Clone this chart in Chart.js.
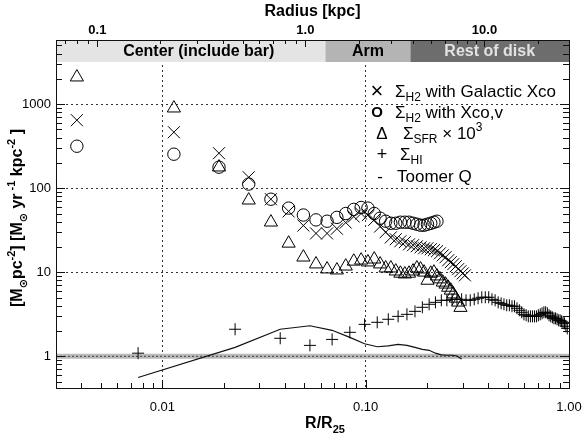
<!DOCTYPE html>
<html>
<head>
<meta charset="utf-8">
<script src="https://cdn.jsdelivr.net/npm/chart.js@4"></script>
<style>
  html, body { margin: 0; padding: 0; background: #fff; }
</style>
</head>
<body>
<canvas id="chart" width="584" height="439"></canvas>
<script>
// axis ranges and tick labels
const xMin = 0.003, xMax = 1.0;
const yMin = 0.42, yMax = 5800;
const xTickValues = [0.01, 0.1, 1.0];
const xTickLabels = ["0.01", "0.10", "1.00"];
const yTickValues = [1, 10, 100, 1000];
const yTickLabels = ["1", "10", "100", "1000"];
// top axis: radius in kpc, placed at R/R25 positions
const kpcTickAt = [0.00479, 0.0505, 0.384];
const kpcTickLabels = ["0.1", "1.0", "10.0"];

// regions along the top
const regionLabels = ["Center (include bar)", "Arm", "Rest of disk"];
const regionEdges = [0.003, 0.0634, 0.166, 1.0];

// H2 / SFR radii (R/R25)
const h2R = [0.0038, 0.0114, 0.0190, 0.0266, 0.0342, 0.0418, 0.0494, 0.0570, 0.0646, 0.0722,
  0.0798, 0.0874, 0.0950, 0.1026, 0.1102, 0.1178, 0.1254, 0.1330, 0.1406, 0.1482,
  0.1558, 0.1634, 0.1710, 0.1786, 0.1862, 0.1938, 0.2014, 0.2090, 0.2166, 0.2242,
  0.2318, 0.2394, 0.2470, 0.2546, 0.2622, 0.2698, 0.2774, 0.2850, 0.2926, 0.3002, 0.3078];

const h2Galactic = [645, 464, 261, 135, 74, 53, 36, 29, 29, 33,
  39, 46, 50, 48, 42, 35, 30, 26, 24.7, 23.4,
  22.8, 21.5, 21.0, 20.4, 19.8, 19.3, 19.3, 18.8, 18.3, 17.8,
  16.8, 15.9, 15.1, 13.9, 13.2, 12.5, 11.8, 10.9, 10.3, 9.7, 9.2];

const h2Xcov = [316, 254, 178, 112, 74, 58, 48, 42, 40.5, 45,
  50, 56, 59, 58, 50, 44, 40.5, 38.3, 38.3, 39.4,
  39.4, 39.4, 38.3, 37.3, 36.3, 36.3, 37.3, 38.3, 39.4, 40.5];

const sfrX1000 = [2096, 896, 178, 72, 39.4, 22.1, 15.1, 12.5, 10.9, 10.6,
  11.8, 13.5, 13.9, 13.2, 14.3, 12.5, 11.2, 11.2, 10.3, 9.7,
  9.5, 9.7, 10.3, 11.2, 10.9, 10.0, 8.0, 9.7, 10.0, 9.0,
  8.3, 7.6, 7.2, 6.6, 6.1, 5.5, 4.9, 4.4, 3.8];

// HI radii (R/R25)
const hiR = [0.0076, 0.0228, 0.0380, 0.0532, 0.0684, 0.0836, 0.0988, 0.1140, 0.1292, 0.1444,
  0.1596, 0.1748, 0.1900, 0.2052, 0.2204, 0.2356, 0.2508, 0.2660, 0.2812, 0.2964,
  0.3116, 0.3268, 0.3420, 0.3572, 0.3724, 0.3876, 0.4028, 0.4180, 0.4332, 0.4484,
  0.4636, 0.4788, 0.4940, 0.5092, 0.5244, 0.5396, 0.5548, 0.5700, 0.5852, 0.6004,
  0.6156, 0.6308, 0.6460, 0.6612, 0.6764, 0.6916, 0.7068, 0.7220, 0.7372, 0.7524,
  0.7676, 0.7828, 0.7980, 0.8132, 0.8284, 0.8436, 0.8588, 0.8740, 0.8892, 0.9044,
  0.9196, 0.9348, 0.9500, 0.9652, 0.9804];

const hiVal = [1.09, 2.10, 1.64, 1.35, 1.59, 1.93, 2.40, 2.54, 2.76, 2.99,
  3.16, 3.43, 3.83, 4.16, 4.39, 4.64, 4.64, 4.77, 4.77, 4.77,
  4.64, 4.64, 4.77, 4.91, 5.04, 5.04, 5.04, 4.77, 4.64, 4.39,
  4.27, 4.16, 4.05, 4.05, 3.94, 3.94, 3.73, 3.53, 3.34, 3.16,
  3.08, 2.99, 2.99, 2.99, 2.99, 2.99, 3.08, 3.16, 3.25, 3.34,
  3.34, 3.25, 3.08, 2.99, 2.91, 2.83, 2.83, 2.76, 2.68, 2.68,
  2.61, 2.54, 2.47, 2.28, 2.15];

// Toomre Q, at the first HI radii
const toomreQ = [0.56, 1.28, 2.10, 2.31, 2.04, 1.68, 1.41, 1.30, 1.33, 1.39,
  1.35, 1.28, 1.21, 1.18, 1.09, 1.04, 1.03, 1.03, 1.01, 0.93];
const qThreshold = 1;

const FONT = '"Liberation Sans", Arial, Helvetica, "DejaVu Sans", sans-serif';
Chart.defaults.font.family = FONT;
Chart.defaults.color = "#000";

const pts = (xs, ys) => ys.map((y, i) => ({ x: xs[i], y: y }));

const drawRich = function (ctx, parts, x, y, size, weight) {
  ctx.textAlign = "left";
  ctx.textBaseline = "middle";
  parts.forEach((p) => {
    const s = p.s ? Math.round(size * 0.68) : size;
    ctx.font = weight + " " + s + "px " + FONT;
    const dy = p.s === -1 ? size * 0.35 : p.s === 1 ? -size * 0.38 : 0;
    ctx.fillText(p.t, x, y + dy);
    x += ctx.measureText(p.t).width;
  });
  return x;
};

const richWidth = function (ctx, parts, size, weight) {
  let w = 0;
  parts.forEach((p) => {
    const s = p.s ? Math.round(size * 0.68) : size;
    ctx.font = weight + " " + s + "px " + FONT;
    w += ctx.measureText(p.t).width;
  });
  return w;
};

const legendRows = [
  { sym: "\u00d7", symFont: "22px", sx: 377, tx: 395, y: 92,
    parts: [{ t: "\u03a3" }, { t: "H2", s: -1 }, { t: " with Galactic Xco" }] },
  { sym: "O", symFont: "bold 15px", sx: 377, tx: 395, y: 113,
    parts: [{ t: "\u03a3" }, { t: "H2", s: -1 }, { t: " with Xco,v" }] },
  { sym: "\u0394", symFont: "17px", sx: 382, tx: 403, y: 134,
    parts: [{ t: "\u03a3" }, { t: "SFR", s: -1 }, { t: " \u00d7 10" }, { t: "3", s: 1 }] },
  { sym: "+", symFont: "18px", sx: 382, tx: 400, y: 155,
    parts: [{ t: "\u03a3" }, { t: "HI", s: -1 }] },
  { sym: "-", symFont: "17px", sx: 380, tx: 397, y: 177,
    parts: [{ t: "Toomer Q" }] },
];

const decorPlugin = {
  id: "decor",
  beforeDatasetsDraw(chart) {
    const { ctx, chartArea: a, scales } = chart;
    const fills = ["#e4e4e4", "#b4b4b4", "#6d6d6d"];
    const inks = ["#000", "#000", "#e2e2e2"];
    const nudge = [8, 0, 0];
    ctx.save();
    for (let i = 0; i < regionLabels.length; i++) {
      const x0 = scales.x.getPixelForValue(regionEdges[i]);
      const x1 = scales.x.getPixelForValue(regionEdges[i + 1]);
      ctx.fillStyle = fills[i];
      ctx.fillRect(x0, a.top, x1 - x0, 22);
      ctx.fillStyle = inks[i];
      ctx.font = "bold 16px " + FONT;
      ctx.textAlign = "center";
      ctx.textBaseline = "middle";
      ctx.fillText(regionLabels[i], (x0 + x1) / 2 + nudge[i], a.top + 12);
    }
    ctx.restore();
  },
  afterDraw(chart) {
    const { ctx, chartArea: a, scales } = chart;
    const xs = scales.x, ys = scales.y;
    ctx.save();
    ctx.strokeStyle = "#111";
    ctx.lineWidth = 1;

    // inward ticks, bottom and left/right
    ctx.beginPath();
    for (let k = -3; k <= 0; k++) {
      for (let m = 1; m <= 9; m++) {
        const v = m * Math.pow(10, k);
        if (v <= xMin || v >= xMax) continue;
        const px = Math.round(xs.getPixelForValue(v)) + 0.5;
        const len = m === 1 ? 8 : 5;
        ctx.moveTo(px, a.bottom);
        ctx.lineTo(px, a.bottom - len);
      }
    }
    for (let k = -1; k <= 3; k++) {
      for (let m = 1; m <= 9; m++) {
        const v = m * Math.pow(10, k);
        if (v <= yMin || v >= yMax) continue;
        const py = Math.round(ys.getPixelForValue(v)) + 0.5;
        const len = m === 1 ? 9 : 6;
        ctx.moveTo(a.left, py);
        ctx.lineTo(a.left + len, py);
        ctx.moveTo(a.right, py);
        ctx.lineTo(a.right - len, py);
      }
    }
    // top (kpc) ticks
    const tops = [];
    kpcTickAt.forEach((v) => tops.push({ v: v, len: 7 }));
    for (let m = 2; m <= 9; m++) {
      const f = Math.log10(m);
      const r0 = kpcTickAt[1] / kpcTickAt[0];
      const r1 = kpcTickAt[2] / kpcTickAt[1];
      tops.push({ v: kpcTickAt[0] * Math.pow(r0, f - 1), len: 4 });
      tops.push({ v: kpcTickAt[0] * Math.pow(r0, f), len: 4 });
      tops.push({ v: kpcTickAt[1] * Math.pow(r1, f), len: 4 });
      tops.push({ v: kpcTickAt[2] * Math.pow(r1, f), len: 4 });
    }
    tops.forEach((t) => {
      if (t.v <= xMin || t.v >= xMax) return;
      const px = Math.round(xs.getPixelForValue(t.v)) + 0.5;
      ctx.moveTo(px, a.top);
      ctx.lineTo(px, a.top + t.len);
    });
    ctx.stroke();

    // frame
    ctx.strokeRect(Math.round(a.left) + 0.5, Math.round(a.top) + 0.5,
      Math.round(a.right - a.left), Math.round(a.bottom - a.top));

    // x title
    ctx.fillStyle = "#000";
    const xt = [{ t: "R/R" }, { t: "25", s: -1 }];
    const xw = richWidth(ctx, xt, 16, "bold");
    drawRich(ctx, xt, 325 - xw / 2, 424, 16, "bold");

    // y title, rotated
    const yt = [{ t: "[M" }, { t: "\u2299", s: -1 }, { t: "pc" }, { t: "-2", s: 1 },
      { t: "] [M" }, { t: "\u2299", s: -1 }, { t: " yr" }, { t: " -1", s: 1 },
      { t: " kpc" }, { t: "-2", s: 1 }, { t: " ]" }];
    ctx.save();
    ctx.translate(18, 218);
    ctx.rotate(-Math.PI / 2);
    const yw = richWidth(ctx, yt, 16, "bold");
    drawRich(ctx, yt, -yw / 2, 0, 16, "bold");
    ctx.restore();

    // legend
    legendRows.forEach((r) => {
      ctx.font = r.symFont + " " + FONT;
      ctx.textAlign = "center";
      ctx.textBaseline = "middle";
      ctx.fillText(r.sym, r.sx, r.y);
      drawRich(ctx, r.parts, r.tx, r.y, 17, "normal");
    });
    ctx.restore();
  },
};

const marker = (style, radius) => ({
  showLine: false,
  pointStyle: style,
  pointRadius: radius,
  pointHoverRadius: radius,
  borderColor: "#000",
  pointBorderColor: "#000",
  backgroundColor: "rgba(0,0,0,0)",
  pointBackgroundColor: "rgba(0,0,0,0)",
  pointBorderWidth: 1,
  borderWidth: 1,
});

new Chart(document.getElementById("chart"), {
  type: "scatter",
  data: {
    datasets: [
      Object.assign({ label: "H2 Galactic Xco", data: pts(h2R, h2Galactic) }, marker("crossRot", 8.5)),
      Object.assign({ label: "H2 Xco,v", data: pts(h2R, h2Xcov) }, marker("circle", 6.2)),
      Object.assign({ label: "SFR x 1e3", data: pts(h2R, sfrX1000) }, marker("triangle", 7.6)),
      Object.assign({ label: "HI", data: pts(hiR, hiVal) }, marker("cross", 6)),
      {
        label: "Toomer Q",
        data: pts(hiR, toomreQ),
        showLine: true,
        pointRadius: 0,
        borderColor: "#111",
        borderWidth: 1.2,
      },
      {
        label: "Q threshold dots",
        data: [{ x: xMin, y: qThreshold }, { x: xMax, y: qThreshold }],
        showLine: true,
        pointRadius: 0,
        borderColor: "#444",
        borderWidth: 1,
        borderDash: [2, 2],
      },
      {
        label: "Q threshold band",
        data: [{ x: xMin, y: qThreshold }, { x: xMax, y: qThreshold }],
        showLine: true,
        pointRadius: 0,
        borderColor: "#b9b9b9",
        borderWidth: 5,
      },
    ],
  },
  options: {
    responsive: false,
    animation: false,
    layout: { padding: { left: 0, right: 15, top: 0, bottom: 0 } },
    plugins: { legend: { display: false }, tooltip: { enabled: false } },
    scales: {
      x: {
        type: "logarithmic",
        position: "bottom",
        min: xMin,
        max: xMax,
        bounds: "data",
        afterBuildTicks: (s) => {
          s.ticks = xTickValues.map((v) => ({ value: v }));
        },
        afterFit: (s) => {
          s.height = 51;
          s.paddingLeft = 0;
          s.paddingRight = 0;
        },
        ticks: {
          autoSkip: false,
          maxRotation: 0,
          padding: 12,
          font: { size: 13 },
          callback: (v, i) => xTickLabels[i],
        },
        grid: {
          drawTicks: false,
          lineWidth: 1,
          color: (c) => (c.tick && c.tick.value < xMax ? "#333" : "rgba(0,0,0,0)"),
        },
        border: { display: false, dash: [2, 3] },
      },
      x2: {
        type: "logarithmic",
        position: "top",
        min: xMin,
        max: xMax,
        bounds: "data",
        afterBuildTicks: (s) => {
          s.ticks = kpcTickAt.map((v) => ({ value: v }));
        },
        afterFit: (s) => {
          s.height = 40;
          s.paddingLeft = 0;
          s.paddingRight = 0;
        },
        ticks: {
          autoSkip: false,
          maxRotation: 0,
          padding: 2,
          font: { size: 13, weight: "bold" },
          callback: (v, i) => kpcTickLabels[i],
        },
        title: {
          display: true,
          text: "Radius [kpc]",
          font: { size: 16, weight: "bold" },
          padding: { top: 2, bottom: 0 },
        },
        grid: { display: false, drawTicks: false },
        border: { display: false },
      },
      y: {
        type: "logarithmic",
        position: "left",
        min: yMin,
        max: yMax,
        bounds: "data",
        afterBuildTicks: (s) => {
          s.ticks = yTickValues.map((v) => ({ value: v }));
        },
        afterFit: (s) => {
          s.width = 56;
          s.paddingTop = 0;
          s.paddingBottom = 0;
        },
        ticks: {
          autoSkip: false,
          padding: 5,
          font: { size: 13 },
          callback: (v, i) => yTickLabels[i],
        },
        grid: { drawTicks: false, lineWidth: 1, color: "#333" },
        border: { display: false, dash: [2, 3] },
      },
    },
  },
  plugins: [decorPlugin],
});
</script>
</body>
</html>
